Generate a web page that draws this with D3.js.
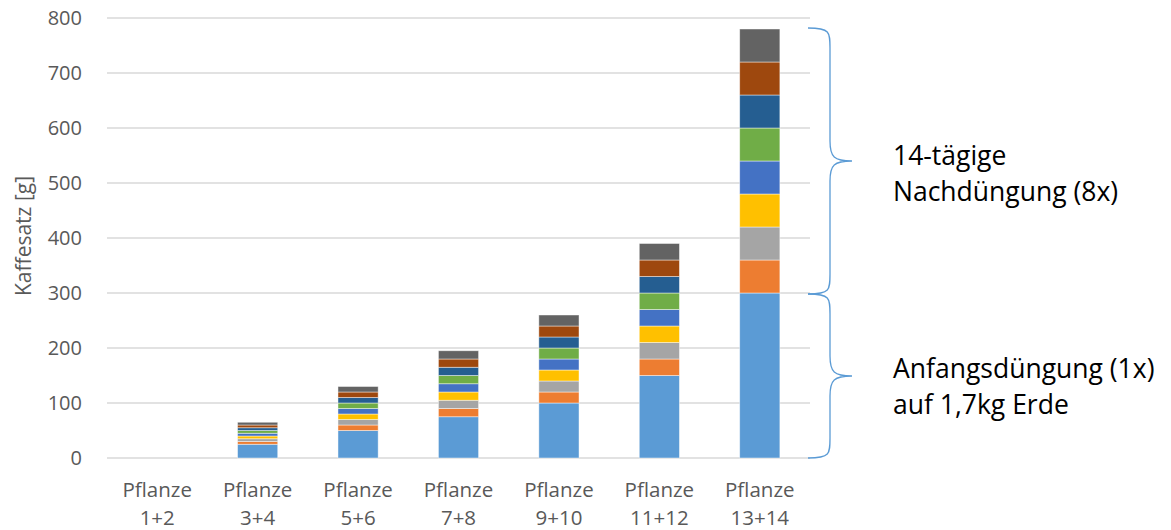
<!DOCTYPE html>
<html>
<head>
<meta charset="utf-8">
<script src="https://cdn.jsdelivr.net/npm/d3@7"></script>
<style>
  html, body { margin: 0; padding: 0; background: #fff; }
  svg { display: block; font-family: "Open Sans", sans-serif; }
</style>
</head>
<body>
<svg id="chart" width="1171" height="530"></svg>
<script>
// Categories (two lines per label)
const categories = ["Pflanze 1+2", "Pflanze 3+4", "Pflanze 5+6", "Pflanze 7+8",
                    "Pflanze 9+10", "Pflanze 11+12", "Pflanze 13+14"];
// Initial fertilisation (grams of coffee grounds)
const anfang = [0, 25, 50, 75, 100, 150, 300];
// Follow-up fertilisations every 14 days (8 doses)
const nach1 = [0, 5, 10, 15, 20, 30, 60];
const nach2 = [0, 5, 10, 15, 20, 30, 60];
const nach3 = [0, 5, 10, 15, 20, 30, 60];
const nach4 = [0, 5, 10, 15, 20, 30, 60];
const nach5 = [0, 5, 10, 15, 20, 30, 60];
const nach6 = [0, 5, 10, 15, 20, 30, 60];
const nach7 = [0, 5, 10, 15, 20, 30, 60];
const nach8 = [0, 5, 10, 15, 20, 30, 60];
const yTicks = [0, 100, 200, 300, 400, 500, 600, 700, 800];

const seriesList = [anfang, nach1, nach2, nach3, nach4, nach5, nach6, nach7, nach8];
const colors = ["#5B9BD5", "#ED7D31", "#A5A5A5", "#FFC000", "#4472C4",
                "#70AD47", "#255E91", "#9E480E", "#636363"];

const svg = d3.select("#chart");
const plot = { left: 107, right: 810, top: 18, bottom: 458 };

const x = d3.scaleBand().domain(categories)
  .range([plot.left, plot.right]).paddingInner(0.6).paddingOuter(0.3);
const y = d3.scaleLinear().domain([0, 800]).range([plot.bottom, plot.top]);

// Gridlines
svg.append("g").selectAll("line").data(yTicks).join("line")
  .attr("x1", plot.left).attr("x2", plot.right)
  .attr("y1", d => y(d)).attr("y2", d => y(d))
  .attr("stroke", "#d9d9d9").attr("stroke-width", 1.3);

// Y axis labels
const yAxis = d3.axisLeft(y).tickValues(yTicks).tickSize(0).tickPadding(0);
const gy = svg.append("g").attr("transform", `translate(${82},0)`).call(yAxis);
gy.select(".domain").remove();
gy.selectAll("text").attr("fill", "#595959").style("font-size", "20px")
  .style("font-family", "'Open Sans', sans-serif");

// Y axis title
svg.append("text")
  .attr("transform", `translate(31,${236}) rotate(-90)`)
  .attr("text-anchor", "middle")
  .attr("fill", "#595959").style("font-size", "21px")
  .text("Kaffesatz [g]");

// Stacked data
const rows = categories.map((c, i) => {
  const r = { cat: c };
  seriesList.forEach((s, k) => { r["s" + k] = s[i]; });
  return r;
});
const keys = seriesList.map((s, k) => "s" + k);
const stacked = d3.stack().keys(keys)(rows);

svg.append("g").selectAll("g").data(stacked).join("g")
  .attr("fill", (d, i) => colors[i])
  .selectAll("rect").data(d => d).join("rect")
  .attr("x", d => x(d.data.cat))
  .attr("width", x.bandwidth())
  .attr("y", d => y(d[1]))
  .attr("height", d => Math.max(0, y(d[0]) - y(d[1])))
  .attr("stroke", "rgba(255,255,255,0.55)")
  .attr("stroke-width", 0.8);

// X axis labels
const gx = svg.append("g");
categories.forEach(c => {
  const parts = c.split(" ");
  const cx = x(c) + x.bandwidth() / 2;
  const t = gx.append("text")
    .attr("text-anchor", "middle")
    .attr("fill", "#595959").style("font-size", "20.5px");
  t.append("tspan").attr("x", cx).attr("y", 497).text(parts[0]);
  t.append("tspan").attr("x", cx).attr("y", 525).text(parts[1]);
});

// Curly braces
function brace(yTop, yBot) {
  const x0 = 808, x1 = 830, x2 = 852;
  const ym = (yTop + yBot) / 2;
  const r = 20;
  return `M${x0},${yTop} C${x1},${yTop} ${x1},${yTop + 4} ${x1},${yTop + r}`
    + ` L${x1},${ym - r} C${x1},${ym - 4} ${x1 + 4},${ym} ${x2},${ym}`
    + ` C${x1 + 4},${ym} ${x1},${ym + 4} ${x1},${ym + r}`
    + ` L${x1},${yBot - r} C${x1},${yBot - 4} ${x1},${yBot} ${x0},${yBot}`;
}
const total13 = d3.sum(seriesList, s => s[6]);
svg.append("path").attr("d", brace(y(total13) - 1, y(anfang[6]) + 1))
  .attr("fill", "none").attr("stroke", "#5B9BD5").attr("stroke-width", 1.3);
svg.append("path").attr("d", brace(y(anfang[6]) + 1, y(0)))
  .attr("fill", "none").attr("stroke", "#5B9BD5").attr("stroke-width", 1.3);

// Annotations
const notes = [
  { lines: ["14-tägige", "Nachdüngung (8x)"], y0: 165 },
  { lines: ["Anfangsdüngung (1x)", "auf 1,7kg Erde"], y0: 378 }
];
notes.forEach(n => {
  const t = svg.append("text").attr("fill", "#000").style("font-size", "26.5px");
  n.lines.forEach((l, i) => {
    t.append("tspan").attr("x", 893).attr("y", n.y0 + i * 36).text(l);
  });
});
</script>
</body>
</html>
